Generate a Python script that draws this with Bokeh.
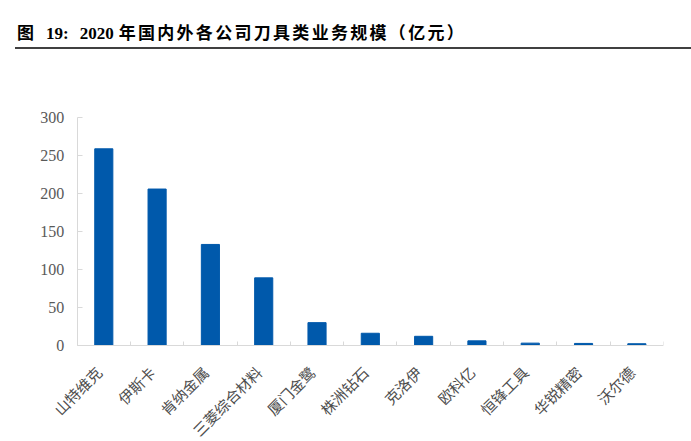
import math
from bokeh.plotting import figure
from bokeh.models import ColumnDataSource, Range1d, FixedTicker, Div
from bokeh.layouts import column
from bokeh.embed import file_html
from bokeh.resources import INLINE
from bokeh.core.properties import value

title_parts = ["图", "19:", "2020", "年国内外各公司刀具类业务规模（亿元）"]
categories = ["山特维克", "伊斯卡", "肯纳金属", "三菱综合材料", "厦门金鹭", "株洲钻石",
              "克洛伊", "欧科亿", "恒锋工具", "华锐精密", "沃尔德"]
values = [259, 206, 133, 89, 30, 16, 12, 6, 3, 2.6, 2.2]
y_ticks = [0, 50, 100, 150, 200, 250, 300]

n = len(categories)
centers = [i + 0.5 for i in range(n)]
bounds = list(range(n + 1))

# layout: frame extends beyond the axes so that tick labels and rotated category labels are not clipped
X_MIN = -0.8
Y_MIN, Y_MAX = -120, 320
FRAME_W = 629
FRAME_H = 334
px_per_unit_y = FRAME_H / (Y_MAX - Y_MIN)
px_per_unit_x = FRAME_W / (n - X_MIN)
label_drop_px = 24
label_shift_px = -5
label_y = -label_drop_px / px_per_unit_y
label_x = [c + label_shift_px / px_per_unit_x for c in centers]

src = ColumnDataSource(dict(x=centers, v=values, c=categories, y0=[0] * n,
                            lx=label_x, ly=[label_y] * n))

title_html = (
    '<div style="margin-left:15px;width:676px;padding-top:24px;padding-left:2px;height:23px;'
    'box-sizing:content-box;border-bottom:2px solid #404040;'
    'font-family:\'Liberation Serif\',\'Noto Sans CJK SC\',serif;font-weight:bold;'
    'font-size:17px;line-height:20px;color:#000;white-space:nowrap;">'
    '<span>' + title_parts[0] + '</span>'
    '<span style="margin-left:12px">' + title_parts[1] + '</span>'
    '<span style="margin-left:11px">' + title_parts[2] + '</span>'
    '<span style="margin-left:5px;letter-spacing:2.3px">' + title_parts[3] + '</span>'
    '</div>'
)
div = Div(text=title_html, width=691, height=49, margin=(0, 0, 0, 0))

p = figure(width=34 + FRAME_W + 12, height=53 + FRAME_H + 4, output_backend="svg",
           toolbar_location=None,
           x_range=Range1d(X_MIN, n), y_range=Range1d(Y_MIN, Y_MAX),
           min_border_left=34, min_border_right=12, min_border_top=53, min_border_bottom=4)
p.outline_line_color = None
p.xgrid.grid_line_color = None
p.ygrid.grid_line_color = None

p.vbar(x="x", top="v", bottom="y0", width=0.34, source=src,
       fill_color="#0059AB", line_color="#0059AB")

p.text(x="lx", y="ly", text="c", source=src, angle=math.pi / 4,
       text_align="right", text_baseline="middle",
       text_font=value("Noto Sans CJK SC"), text_font_size="15px", text_color="#4d4d4d")

xa = p.xaxis[0]
xa.fixed_location = 0
xa.bounds = (0, n)
xa.ticker = FixedTicker(ticks=[], minor_ticks=bounds)
xa.major_tick_line_color = None
xa.major_tick_in = 0
xa.major_tick_out = 0
xa.major_label_text_font_size = "0px"
xa.major_label_standoff = 0
xa.minor_tick_in = 4
xa.minor_tick_out = 0
xa.minor_tick_line_color = "#d9d9d9"
xa.axis_line_color = "#d9d9d9"

ya = p.yaxis[0]
ya.fixed_location = 0
ya.bounds = (0, 300)
ya.ticker = FixedTicker(ticks=y_ticks)
ya.minor_tick_line_color = None
ya.major_tick_in = 5
ya.major_tick_out = 0
ya.major_tick_line_color = "#d9d9d9"
ya.axis_line_color = "#d9d9d9"
ya.major_label_text_font = "Liberation Serif"
ya.major_label_text_font_size = "16px"
ya.major_label_text_color = "#595959"
ya.major_label_standoff = 13

layout = column(div, p, spacing=0)
open("out.html", "w").write(file_html(layout, INLINE))
